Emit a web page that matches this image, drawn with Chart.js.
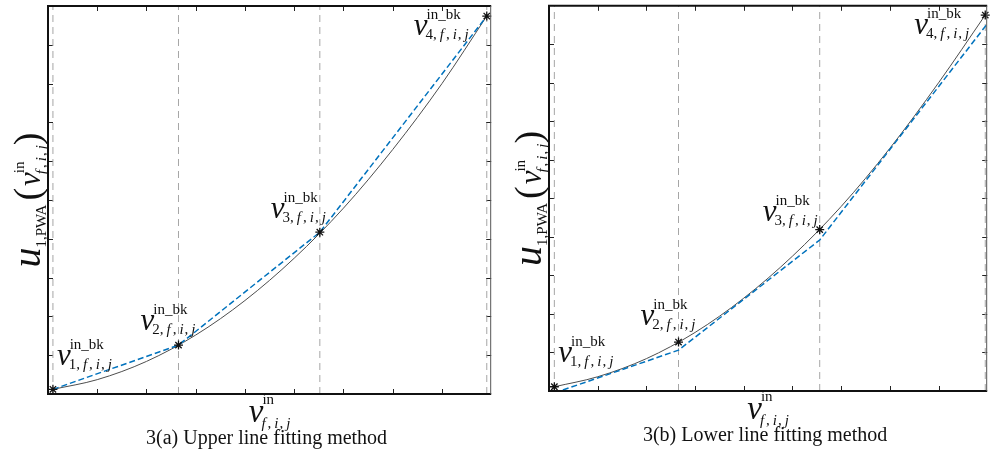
<!DOCTYPE html>
<html>
<head>
<meta charset="utf-8">
<script src="https://cdn.jsdelivr.net/npm/chart.js@4/dist/chart.umd.min.js"></script>
<style>
    html, body { margin: 0; padding: 0; background: #fff; }
    body { width: 993px; height: 455px; position: relative; overflow: hidden; }
    .panel { position: absolute; top: 0; height: 455px; }
    canvas { display: block; }
</style>
</head>
<body>
<div class="panel" style="left:0;width:497px"><canvas id="chartA" width="497" height="455"></canvas></div>
<div class="panel" style="left:497px;width:496px"><canvas id="chartB" width="496" height="455"></canvas></div>
<script>
// axis ranges / tick marks (no tick labels are shown in the figure)
const xTicks = [0, 1, 2, 3, 4, 5, 6, 7, 8, 9];
const yTicks = [0, 1, 2, 3, 4, 5, 6, 7, 8, 9, 10];

// 3(a) upper fitting - curve, breakpoints and the chords between them
const curveXA = [0.1, 1, 2, 3, 4, 5, 6, 7, 8, 8.91];
const curveYA = [0.12, 0.37, 0.84, 1.52, 2.41, 3.50, 4.79, 6.30, 8.00, 9.74];
const breakXA = [0.1, 2.65, 5.52, 8.91];
const breakYA = [0.12, 1.26, 4.17, 9.74];
const fitXA = [0.1, 2.65, 5.52, 8.91];
const fitYA = [0.12, 1.26, 4.17, 9.74];

// 3(b) lower fitting - same curve, fit line sits under it
const curveXB = [0.11, 1, 2, 3, 4, 5, 6, 7, 8, 8.96];
const curveYB = [0.11, 0.37, 0.84, 1.52, 2.41, 3.50, 4.79, 6.30, 8.00, 9.76];
const breakXB = [0.11, 2.66, 5.56, 8.96];
const breakYB = [0.11, 1.27, 4.19, 9.76];
const fitXB = [0.11, 2.66, 5.56, 9.0];
const fitYB = [-0.05, 1.06, 3.92, 9.53];

const captionA = '3(a) Upper line fitting method';
const captionB = '3(b) Lower line fitting method';

const SERIF = '"Liberation Serif", "Times New Roman", serif';

const zip = (xs, ys) => xs.map((x, i) => ({ x: x, y: ys[i] }));

// draws a row of text pieces, returns its width (dry = only measure)
function drawRuns(ctx, x, y, runs, dry) {
    let cx = x;
    for (const r of runs) {
        if (r.stack) {
            const w1 = drawRuns(ctx, cx + (r.supDx || 0), y + r.supDy, r.sup, dry) + (r.supDx || 0);
            const w2 = drawRuns(ctx, cx + (r.subDx || 0), y + r.subDy, r.sub, dry) + (r.subDx || 0);
            cx += Math.max(w1, w2);
        } else {
            ctx.font = (r.it ? 'italic ' : '') + r.size + 'px ' + SERIF;
            if (!dry) ctx.fillText(r.t, cx, y + (r.dy || 0));
            cx += ctx.measureText(r.t).width + (r.gap || 0);
        }
    }
    return cx - x;
}

function subFIJ(s, idx) {
    const out = [];
    if (idx) out.push({ t: idx + ',', size: s, gap: 3 });
    out.push({ t: 'f', size: s, it: true, gap: 2 }, { t: ',', size: s, gap: 3 },
             { t: 'i', size: s, it: true, gap: 1 }, { t: ',', size: s, gap: 3 },
             { t: 'j', size: s, it: true });
    return out;
}

function vVar(size, small, sup, sub, supDy, subDy) {
    return [
        { t: 'v', size: size, it: true, gap: -1 },
        { stack: true, sup: [{ t: sup, size: small }], sub: sub, supDy: supDy, subDy: subDy, subDx: -1 }
    ];
}

const annotPlugin = {
    id: 'annot',
    beforeDatasetsDraw(chart, args, opts) {
        const { ctx, chartArea: a, scales } = chart;
        ctx.save();
        // inward tick marks
        ctx.strokeStyle = '#222';
        ctx.lineWidth = 1;
        ctx.beginPath();
        xTicks.slice(1, -1).forEach(v => {
            const px = Math.round(scales.x.getPixelForValue(v)) + 0.5;
            ctx.moveTo(px, a.bottom); ctx.lineTo(px, a.bottom - 5);
            ctx.moveTo(px, a.top); ctx.lineTo(px, a.top + 5);
        });
        yTicks.slice(1, -1).forEach(v => {
            const py = Math.round(scales.y.getPixelForValue(v)) + 0.5;
            ctx.moveTo(a.left, py); ctx.lineTo(a.left + 5, py);
            ctx.moveTo(a.right, py); ctx.lineTo(a.right - 5, py);
        });
        ctx.stroke();
        ctx.restore();
    },
    afterDraw(chart, args, opts) {
        const { ctx, chartArea: a, scales } = chart;
        ctx.save();
        // box
        ctx.strokeStyle = '#111';
        ctx.lineWidth = 2;
        ctx.beginPath();
        ctx.moveTo(a.right, a.top); ctx.lineTo(a.left, a.top); ctx.lineTo(a.left, a.bottom); ctx.lineTo(a.right, a.bottom);
        ctx.stroke();
        ctx.lineWidth = 1;
        ctx.strokeStyle = '#555';
        ctx.beginPath();
        ctx.moveTo(a.right - 0.5, a.top); ctx.lineTo(a.right - 0.5, a.bottom);
        ctx.stroke();

        ctx.fillStyle = '#111';
        ctx.textBaseline = 'alphabetic';
        ctx.textAlign = 'left';

        // breakpoint labels
        opts.breakX.forEach((bx, i) => {
            const px = scales.x.getPixelForValue(bx);
            const py = scales.y.getPixelForValue(opts.breakY[i]);
            const off = opts.labelOffsets[i];
            drawRuns(ctx, px + off[0], py + off[1], vVar(31, 15, 'in_bk', subFIJ(15, String(i + 1)), -16, 4));
        });

        // x axis label
        const xl = vVar(33, 15, 'in', subFIJ(15), -18, 6);
        const xw = drawRuns(ctx, 0, 0, xl, true);
        drawRuns(ctx, (a.left + a.right) / 2 - xw / 2, a.bottom + 28, xl);

        // y axis label, rotated
        const yl = [{ t: 'u', size: 40, it: true, gap: 0 },
                    { t: '1,PWA', size: 15, dy: 6, gap: 4 },
                    { t: '(', size: 38, gap: 2 }]
            .concat(vVar(31, 15, 'in', subFIJ(15), -16, 6))
            .concat([{ t: ')', size: 38 }]);
        const yw = drawRuns(ctx, 0, 0, yl, true);
        ctx.save();
        ctx.translate(a.left - 8, (a.top + a.bottom) / 2);
        ctx.rotate(-Math.PI / 2);
        drawRuns(ctx, -yw / 2, 0, yl);
        ctx.restore();

        // caption
        ctx.font = '20px ' + SERIF;
        ctx.textAlign = 'center';
        ctx.fillText(opts.caption, (a.left + a.right) / 2 - 3, a.bottom + 50);
        ctx.restore();
    }
};

function makeChart(id, d) {
    const vlines = d.breakX.map(bx => ({
        data: [{ x: bx, y: yTicks[0] }, { x: bx, y: yTicks[yTicks.length - 1] }],
        showLine: true,
        borderColor: '#a6a6a6',
        borderWidth: 1,
        borderDash: [7, 5],
        pointRadius: 0
    }));
    new Chart(document.getElementById(id), {
        type: 'scatter',
        data: {
            datasets: [
                {
                    data: zip(d.breakX, d.breakY),
                    pointStyle: 'star',
                    pointRadius: 4.5,
                    borderColor: '#111',
                    backgroundColor: '#111',
                    borderWidth: 1.3,
                    showLine: false,
                    clip: false
                },
                {
                    data: zip(d.fitX, d.fitY),
                    showLine: true,
                    borderColor: '#0072BD',
                    borderWidth: 1.5,
                    borderDash: [6, 3],
                    pointRadius: 0,
                    tension: 0
                },
                {
                    data: zip(d.curveX, d.curveY),
                    showLine: true,
                    borderColor: '#4d4d4d',
                    borderWidth: 1,
                    pointRadius: 0,
                    cubicInterpolationMode: 'monotone'
                }
            ].concat(vlines)
        },
        options: {
            responsive: false,
            animation: false,
            devicePixelRatio: 1,
            layout: { padding: d.padding },
            scales: {
                x: { type: 'linear', min: xTicks[0], max: xTicks[xTicks.length - 1], display: false },
                y: { type: 'linear', min: yTicks[0], max: yTicks[yTicks.length - 1], display: false }
            },
            plugins: {
                legend: { display: false },
                tooltip: { enabled: false },
                annot: {
                    breakX: d.breakX,
                    breakY: d.breakY,
                    labelOffsets: d.labelOffsets,
                    caption: d.caption
                }
            }
        },
        plugins: [annotPlugin]
    });
}

makeChart('chartA', {
    curveX: curveXA, curveY: curveYA,
    breakX: breakXA, breakY: breakYA,
    fitX: fitXA, fitY: fitYA,
    caption: captionA,
    padding: { left: 48, right: 4, top: 6, bottom: 61 },
    labelOffsets: [[4, -24], [-38, -15], [-49, -14], [-73, 19]]
});

makeChart('chartB', {
    curveX: curveXB, curveY: curveYB,
    breakX: breakXB, breakY: breakYB,
    fitX: fitXB, fitY: fitYB,
    caption: captionB,
    padding: { left: 52, right: 1, top: 4, bottom: 64 },
    labelOffsets: [[4, -25], [-38, -17], [-57, -9], [-71, 19]]
});
</script>
</body>
</html>
